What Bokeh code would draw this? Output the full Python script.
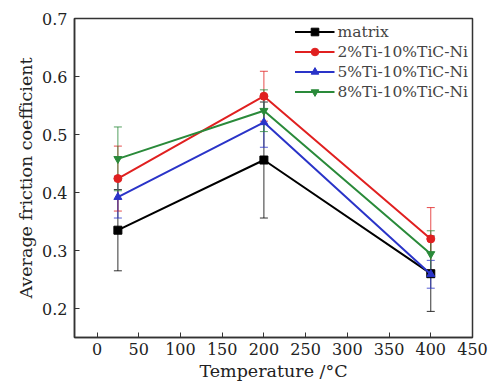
from bokeh.plotting import figure
from bokeh.models import ColumnDataSource, Whisker, TeeHead, FixedTicker, Range1d
from bokeh.embed import file_html
from bokeh.resources import INLINE

temps = [25, 200, 400]
series_names = ["matrix", "2%Ti-10%TiC-Ni", "5%Ti-10%TiC-Ni", "8%Ti-10%TiC-Ni"]
matrix = [0.335, 0.456, 0.260]
matrix_err = [0.070, 0.100, 0.065]
ti2 = [0.424, 0.566, 0.320]
ti2_err = [0.056, 0.043, 0.054]
ti5 = [0.392, 0.521, 0.259]
ti5_err = [0.036, 0.043, 0.024]
ti8 = [0.458, 0.541, 0.294]
ti8_err = [0.055, 0.036, 0.040]
x_ticks = [0, 50, 100, 150, 200, 250, 300, 350, 400, 450]
y_ticks = [0.2, 0.3, 0.4, 0.5, 0.6, 0.7]

colors = ["#000000", "#e02020", "#2a34c8", "#2a8a3a"]
markers = ["square", "circle", "triangle", "inverted_triangle"]
values = [matrix, ti2, ti5, ti8]
errs = [matrix_err, ti2_err, ti5_err, ti8_err]

FONT = "DejaVu Serif"

p = figure(width=490, height=384, output_backend="svg", toolbar_location=None,
           x_range=Range1d(-27, 450), y_range=Range1d(0.15, 0.7))
p.min_border_left = 74
p.min_border_right = 18
p.min_border_top = 18
p.min_border_bottom = 47

for name, vals, err, c, m in zip(series_names, values, errs, colors, markers):
    src = ColumnDataSource(dict(x=temps, y=vals,
                                lo=[v - e for v, e in zip(vals, err)],
                                hi=[v + e for v, e in zip(vals, err)]))
    w = Whisker(base="x", lower="lo", upper="hi", source=src,
                line_color=c, line_width=1, line_alpha=0.8,
                upper_head=TeeHead(size=8, line_color=c, line_width=1, line_alpha=0.8),
                lower_head=TeeHead(size=8, line_color=c, line_width=1, line_alpha=0.8))
    p.add_layout(w)
    p.line("x", "y", source=src, line_color=c, line_width=2, legend_label=name)
    p.scatter("x", "y", source=src, marker=m, size=8, fill_color=c, line_color=c,
              legend_label=name)

p.xgrid.visible = False
p.ygrid.visible = False
p.outline_line_color = "#333333"
p.outline_line_width = 1.5

for ax in (p.xaxis[0], p.yaxis[0]):
    ax.major_tick_in = 5
    ax.major_tick_out = 0
    ax.minor_tick_line_color = None
    ax.axis_line_color = "#333333"
    ax.axis_line_width = 1.5
    ax.major_tick_line_color = "#333333"
    ax.major_label_text_font = FONT
    ax.major_label_text_font_size = "16px"
    ax.major_label_text_color = "#222222"
    ax.axis_label_text_font = FONT
    ax.axis_label_text_font_size = "17.5px"
    ax.axis_label_text_font_style = "normal"
    ax.axis_label_text_color = "#222222"

p.xaxis.ticker = FixedTicker(ticks=x_ticks)
p.yaxis.ticker = FixedTicker(ticks=y_ticks)
p.xaxis.axis_label = "Temperature /°C"
p.yaxis.axis_label = "Average friction coefficient"
p.xaxis.axis_label_standoff = 3
p.yaxis.axis_label_standoff = 3
p.xaxis.major_label_standoff = 5
p.yaxis.major_label_standoff = 7

p.legend.location = "top_right"
p.legend.border_line_color = None
p.legend.background_fill_alpha = 0
p.legend.label_text_font = FONT
p.legend.label_text_font_size = "15.5px"
p.legend.glyph_width = 40
p.legend.label_standoff = 3
p.legend.spacing = 1
p.legend.padding = 2
p.legend.margin = 4
p.legend.label_height = 19
p.legend.glyph_height = 19

open("out.html", "w").write(file_html(p, INLINE))
